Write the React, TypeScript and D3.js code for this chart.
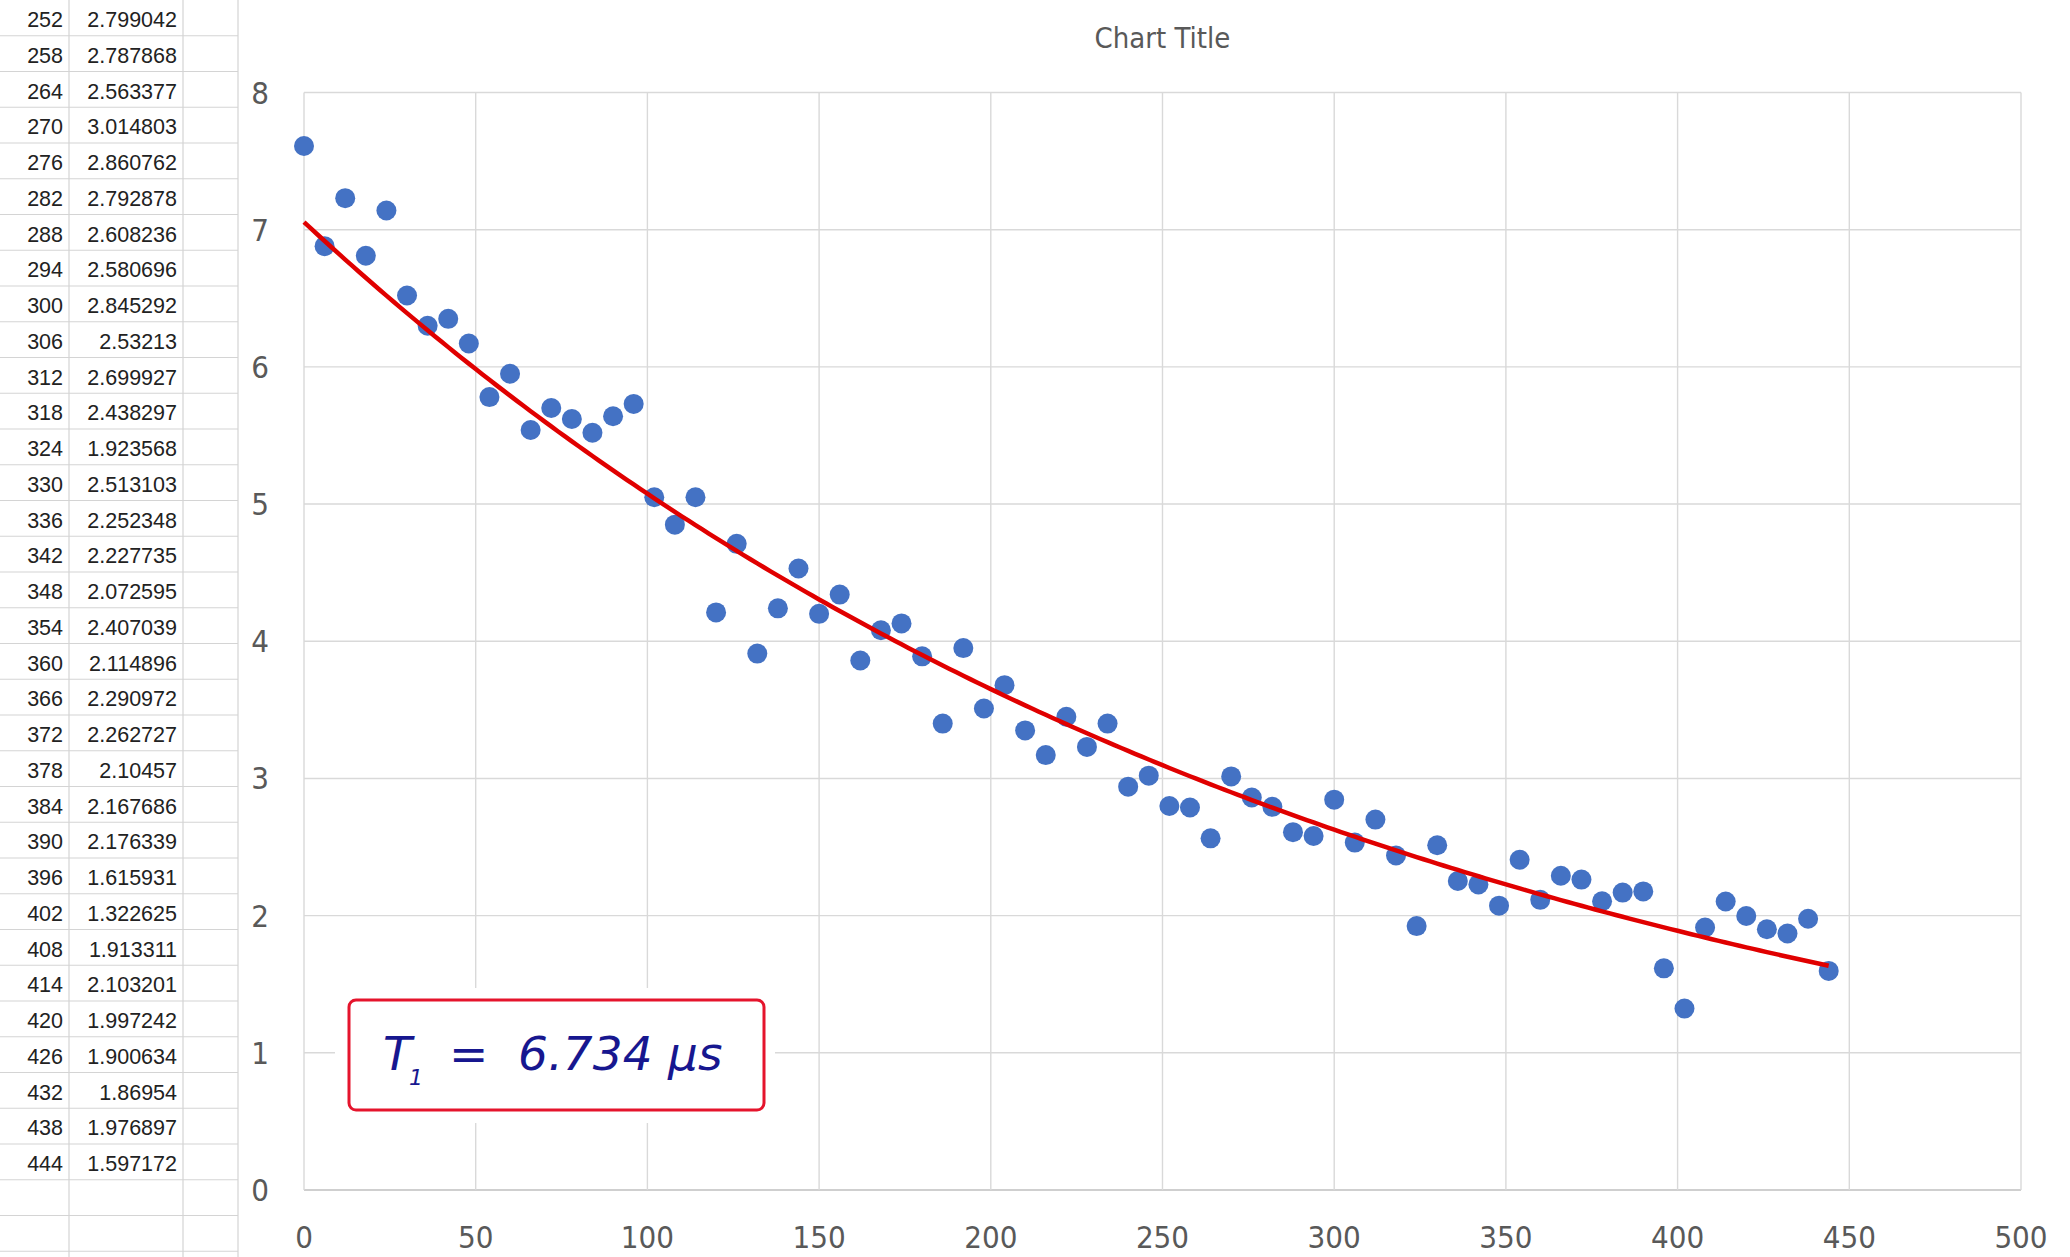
import * as d3 from "d3";

const times = [
  0, 6, 12, 18, 24, 30, 36, 42, 48, 54, 60, 66, 72, 78, 84, 90, 96, 102, 108, 114,
  120, 126, 132, 138, 144, 150, 156, 162, 168, 174, 180, 186, 192, 198, 204, 210,
  216, 222, 228, 234, 240, 246, 252, 258, 264, 270, 276, 282, 288, 294, 300, 306,
  312, 318, 324, 330, 336, 342, 348, 354, 360, 366, 372, 378, 384, 390, 396, 402,
  408, 414, 420, 426, 432, 438, 444,
];
const signal = [
  7.61, 6.88, 7.23, 6.81, 7.14, 6.52, 6.3, 6.35, 6.17, 5.78, 5.95, 5.54, 5.7, 5.62,
  5.52, 5.64, 5.73, 5.05, 4.85, 5.05, 4.21, 4.71, 3.91, 4.24, 4.53, 4.2, 4.34, 3.86,
  4.08, 4.13, 3.89, 3.4, 3.95, 3.51, 3.68, 3.35, 3.17, 3.45, 3.23, 3.4, 2.94, 3.02,
  2.799042, 2.787868, 2.563377, 3.014803, 2.860762, 2.792878, 2.608236, 2.580696,
  2.845292, 2.53213, 2.699927, 2.438297, 1.923568, 2.513103, 2.252348, 2.227735,
  2.072595, 2.407039, 2.114896, 2.290972, 2.262727, 2.10457, 2.167686, 2.176339,
  1.615931, 1.322625, 1.913311, 2.103201, 1.997242, 1.900634, 1.86954, 1.976897,
  1.597172,
];
const firstTableRow = 42; // sheet shows rows from 252 on
const xTickValues = [0, 50, 100, 150, 200, 250, 300, 350, 400, 450, 500];
const yTickValues = [0, 1, 2, 3, 4, 5, 6, 7, 8];
const chartTitle = "Chart Title";

const W = 2070;
const H = 1257;
const plot = { left: 304, right: 2021, top: 92.5, bottom: 1190 };
const rowH = 35.75;
const sheetCols = [69, 183, 238];
const labelFont = "'Liberation Sans Narrow', 'DejaVu Sans Condensed', 'Liberation Sans', sans-serif";

export default function App() {
  const x = d3.scaleLinear().domain([0, 500]).range([plot.left, plot.right]);
  const y = d3.scaleLinear().domain([0, 8]).range([plot.bottom, plot.top]);

  // excel style exponential trendline: ln(y) = ln(a) + b*x
  const logs = signal.map(Math.log);
  const mx = d3.mean(times)!;
  const my = d3.mean(logs)!;
  const b =
    d3.sum(times, (t, i) => (t - mx) * (logs[i] - my)) /
    d3.sum(times, (t) => (t - mx) * (t - mx));
  const a = Math.exp(my - b * mx);
  const fitX = d3.range(0, 445, 2);
  const fitLine = d3
    .line<number>()
    .x((t) => x(t))
    .y((t) => y(a * Math.exp(b * t)));

  const tableRows = times.slice(firstTableRow).map((t, i) => ({
    t,
    v: signal[firstTableRow + i],
  }));
  const nRows = tableRows.length + 2;

  return (
    <>
      <style>{"body{margin:0}"}</style>
      <svg width={W} height={H} style={{ display: "block", background: "#fff" }}>
        {/* spreadsheet behind the chart */}
        <g>
          {d3.range(nRows).map((k) => (
            <line
              key={"r" + k}
              x1={0}
              x2={sheetCols[2]}
              y1={(k + 1) * rowH}
              y2={(k + 1) * rowH}
              stroke="#d4d4d4"
              strokeWidth={1.2}
            />
          ))}
          {sheetCols.map((c) => (
            <line key={"c" + c} x1={c} x2={c} y1={0} y2={H} stroke="#d4d4d4" strokeWidth={1.2} />
          ))}
          {tableRows.map((r, k) => (
            <g key={r.t} fontFamily="'Liberation Sans', sans-serif" fontSize={21.5} fill="#222">
              <text x={63} y={k * rowH + 27} textAnchor="end">
                {r.t}
              </text>
              <text x={177} y={k * rowH + 27} textAnchor="end">
                {String(r.v)}
              </text>
            </g>
          ))}
        </g>

        {/* chart area */}
        <rect x={sheetCols[2] + 1} y={0} width={W - sheetCols[2]} height={H} fill="#fff" />

        <text
          x={(plot.left + plot.right) / 2}
          y={48}
          textAnchor="middle"
          fontFamily={labelFont}
          fontSize={29}
          fill="#595959"
        >
          {chartTitle}
        </text>

        {/* gridlines */}
        {yTickValues.map((v) => (
          <line
            key={"gy" + v}
            x1={plot.left}
            x2={plot.right}
            y1={y(v)}
            y2={y(v)}
            stroke={v === 0 ? "#bfbfbf" : "#d9d9d9"}
            strokeWidth={1.4}
          />
        ))}
        {xTickValues.map((v) => (
          <line
            key={"gx" + v}
            x1={x(v)}
            x2={x(v)}
            y1={plot.top}
            y2={plot.bottom}
            stroke="#d9d9d9"
            strokeWidth={1.4}
          />
        ))}

        {/* tick labels */}
        {yTickValues.map((v) => (
          <text
            key={"ly" + v}
            x={plot.left - 35}
            y={y(v) + 11}
            textAnchor="end"
            fontFamily={labelFont}
            fontSize={31}
            fill="#595959"
          >
            {v}
          </text>
        ))}
        {xTickValues.map((v) => (
          <text
            key={"lx" + v}
            x={x(v)}
            y={plot.bottom + 58}
            textAnchor="middle"
            fontFamily={labelFont}
            fontSize={31}
            fill="#595959"
          >
            {v}
          </text>
        ))}

        {/* data */}
        {times.map((t, i) => (
          <circle key={"p" + t} cx={x(t)} cy={y(signal[i])} r={10} fill="#4472C4" />
        ))}
        <path d={fitLine(fitX) ?? ""} fill="none" stroke="#e00000" strokeWidth={4.5} />

        {/* T1 annotation */}
        <rect x={335} y={988} width={440} height={135} fill="#fff" />
        <rect
          x={349}
          y={1000}
          width={415}
          height={110}
          rx={7}
          fill="#fff"
          stroke="#e5142c"
          strokeWidth={3}
        />
        <text
          fontFamily="'DejaVu Sans', sans-serif"
          fontStyle="italic"
          fontSize={47}
          fill="#17178f"
          style={{ whiteSpace: "pre" }}
        >
          <tspan x={383} y={1070}>T</tspan>
          <tspan x={409} y={1085} fontSize={22}>1</tspan>
          <tspan x={449} y={1070}>=</tspan>
          <tspan x={518} y={1070}>6.734</tspan>
          <tspan x={668} y={1070}>μs</tspan>
        </text>
      </svg>
    </>
  );
}
